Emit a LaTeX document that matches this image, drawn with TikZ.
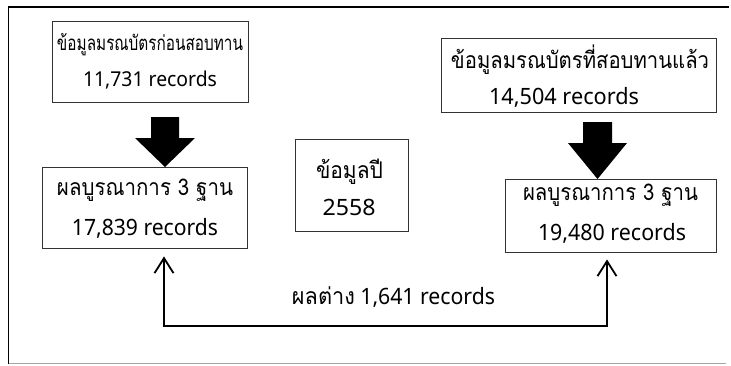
\documentclass[tikz,border=0pt]{standalone}
\usepackage{fontspec}
\setmainfont{Noto Sans}
\newfontfamily\thaifont[Script=Thai]{Loma}
\usetikzlibrary{arrows.meta}
% a Thai line and a Latin line, each squeezed to a given width
\newcommand\thline[3]{\resizebox{#1pt}{\height}{\thaifont\fontsize{#2}{#2}\selectfont #3}}
\newcommand\laline[3]{\resizebox{#1pt}{\height}{\fontsize{#2}{#2}\selectfont #3}}
\tikzset{
  box/.style={draw=black!80, line width=0.9pt, align=center, inner sep=0pt},
  blockarrow/.style={fill=black},
  link/.style={line width=1.8pt, {Straight Barb[length=15pt,width=19pt,line width=1.8pt]}-{Straight Barb[length=15pt,width=19pt,line width=1.8pt]}},
}
\begin{document}
\begin{tikzpicture}[x=1pt,y=-1pt]
\useasboundingbox (0,0) rectangle (731,365);
% outer frame
\draw[line width=1.6pt] (729,7) -- (8.5,7) -- (8.5,363.5);
\draw[line width=1pt, black!35] (8.5,363.5) -- (726,363.5);
% boxes
\node[box, minimum width=196pt, minimum height=81pt] (b1) at (150,61.5) {};
\node[box, minimum width=205pt, minimum height=81pt] (b2) at (144.5,207.5) {};
\node[box, minimum width=113pt, minimum height=92pt] (mid) at (351.5,185) {};
\node[box, minimum width=275pt, minimum height=74pt] (b3) at (578.5,75) {};
\node[box, minimum width=211pt, minimum height=73pt] (b4) at (610.5,215.5) {};
% texts
\node (t1a) at (150,45) {\thline{186}{20.5}{ข้อมูลมรณบัตรก่อนสอบทาน}};
\node (t1b) at (150,80) {\laline{134}{20.5}{11,731 records}};
\node (t2a) at (145,190) {\thline{176}{23}{ผลบูรณาการ 3 ฐาน}};
\node (t2b) at (145,228) {\laline{146}{22.5}{17,839 records}};
\node (tma) at (349.5,172) {\thline{67}{23}{ข้อมูลปี}};
\node (tmb) at (349,207) {\laline{53}{22.5}{2558}};
\node (t3a) at (580,60) {\thline{258}{23}{ข้อมูลมรณบัตรที่สอบทานแล้ว}};
\node (t3b) at (564,97) {\laline{150}{22.5}{14,504 records}};
\node (t4a) at (610.5,195) {\thline{175}{23}{ผลบูรณาการ 3 ฐาน}};
\node (t4b) at (612,233) {\laline{148}{22.5}{19,480 records}};
% block arrows
\fill[blockarrow] (151,117) -- (179,117) -- (179,138) -- (195,138) -- (165,167) -- (135,138) -- (151,138) -- cycle;
\fill[blockarrow] (583,122) -- (612,122) -- (612,143) -- (627,143) -- (597.5,179) -- (568,143) -- (583,143) -- cycle;
% difference connector
\coordinate (c1) at (164,326);
\coordinate (c2) at (607,326);
\draw[link] ([yshift=-8pt]b2.south -| c1) -- (c1) -- (c2) -- ([yshift=-7pt]b4.south -| c2);
\node (diff) at (393.5,297) {\resizebox{203pt}{\height}{\fontsize{22.5}{22.5}\selectfont{\thaifont\fontsize{23}{23}\selectfont ผลต่าง} 1,641 records}};
\end{tikzpicture}
\end{document}
